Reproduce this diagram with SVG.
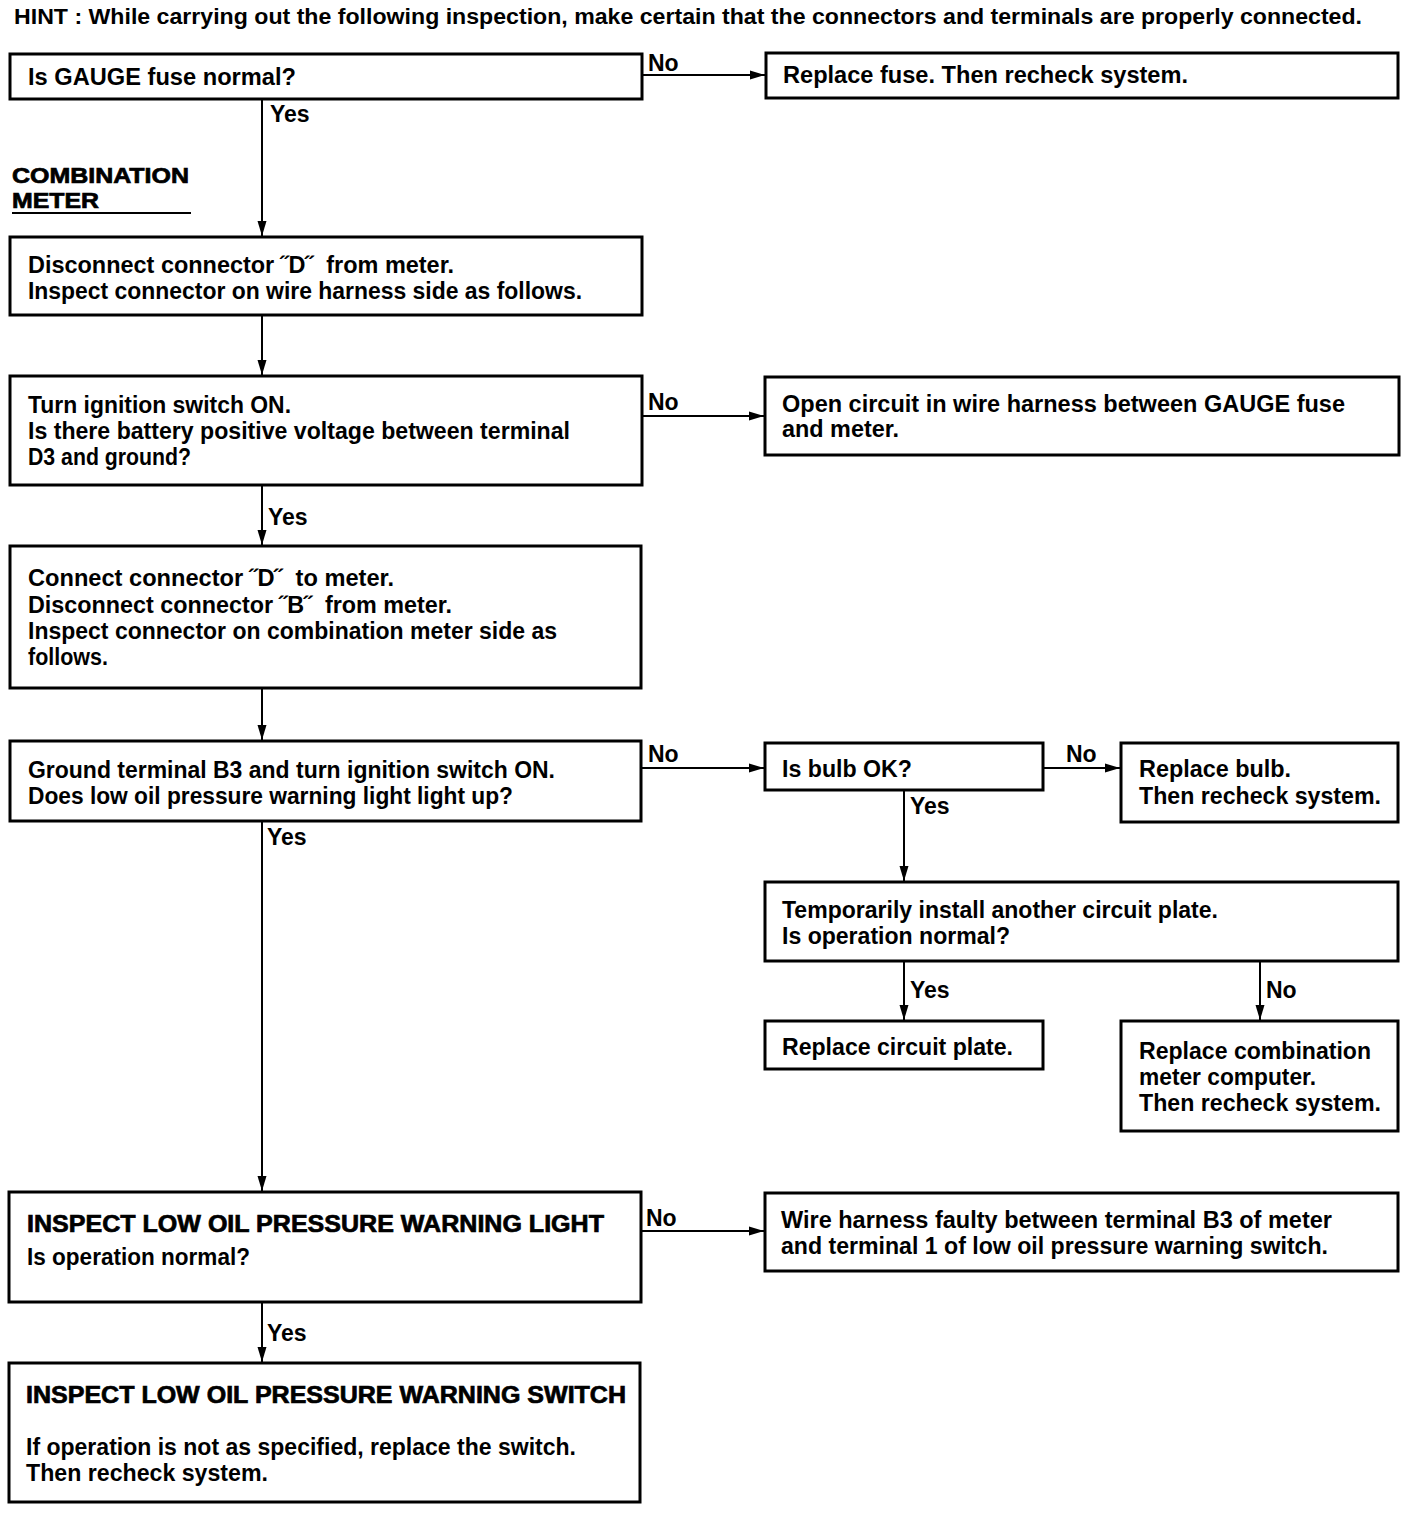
<svg xmlns="http://www.w3.org/2000/svg" width="1408" height="1516" viewBox="0 0 1408 1516">
<style>
text{font-family:"Liberation Sans",Arial,sans-serif;font-weight:bold;font-size:23.5px;fill:#000}
.t{font-size:22px}
.l{font-size:23px}
.h{stroke:#000;stroke-width:0.7}
.box{fill:#fff;stroke:#000;stroke-width:3}
.ln{stroke:#000;stroke-width:2;fill:none}
</style>
<defs>
<marker id="ar" markerUnits="userSpaceOnUse" markerWidth="16" markerHeight="12" refX="15" refY="6" orient="auto">
<path d="M0,1.5 L15,6 L0,10.5 Z" fill="#000"/>
</marker>
</defs>
<rect width="1408" height="1516" fill="#fff"/>
<text x="14" y="24" class="t" textLength="1348" lengthAdjust="spacingAndGlyphs">HINT : While carrying out the following inspection, make certain that the connectors and terminals are properly connected.</text>

<g id="connectors">
<line class="ln" x1="642" y1="75" x2="765" y2="75" marker-end="url(#ar)"/>
<line class="ln" x1="262" y1="99" x2="262" y2="236" marker-end="url(#ar)"/>
<line class="ln" x1="262" y1="315" x2="262" y2="375" marker-end="url(#ar)"/>
<line class="ln" x1="642" y1="416" x2="764" y2="416" marker-end="url(#ar)"/>
<line class="ln" x1="262" y1="485" x2="262" y2="545" marker-end="url(#ar)"/>
<line class="ln" x1="262" y1="688" x2="262" y2="740" marker-end="url(#ar)"/>
<line class="ln" x1="641" y1="768" x2="764" y2="768" marker-end="url(#ar)"/>
<line class="ln" x1="1043" y1="768" x2="1120" y2="768" marker-end="url(#ar)"/>
<line class="ln" x1="904" y1="790" x2="904" y2="881" marker-end="url(#ar)"/>
<line class="ln" x1="904" y1="961" x2="904" y2="1020" marker-end="url(#ar)"/>
<line class="ln" x1="1260" y1="961" x2="1260" y2="1020" marker-end="url(#ar)"/>
<line class="ln" x1="262" y1="821" x2="262" y2="1191" marker-end="url(#ar)"/>
<line class="ln" x1="641" y1="1231" x2="764" y2="1231" marker-end="url(#ar)"/>
<line class="ln" x1="262" y1="1302" x2="262" y2="1362" marker-end="url(#ar)"/>
<text x="648" y="71" class="l">No</text>
<text x="270" y="122" class="l">Yes</text>
<text x="648" y="410" class="l">No</text>
<text x="268" y="525" class="l">Yes</text>
<text x="648" y="762" class="l">No</text>
<text x="1066" y="762" class="l">No</text>
<text x="910" y="814" class="l">Yes</text>
<text x="910" y="998" class="l">Yes</text>
<text x="1266" y="998" class="l">No</text>
<text x="267" y="845" class="l">Yes</text>
<text x="646" y="1226" class="l">No</text>
<text x="267" y="1341" class="l">Yes</text>
</g>

<g id="label-combination-meter">
<text x="12" y="183" class="t h" textLength="177" lengthAdjust="spacingAndGlyphs">COMBINATION</text>
<text x="12" y="208" class="t h" textLength="87" lengthAdjust="spacingAndGlyphs">METER</text>
<line x1="12" y1="213" x2="191" y2="213" stroke="#000" stroke-width="2"/>
</g>

<g id="n1">
<rect class="box" x="10" y="54" width="632" height="45"/>
<text x="28" y="85" textLength="268" lengthAdjust="spacingAndGlyphs">Is GAUGE fuse normal?</text>
</g>
<g id="n2">
<rect class="box" x="766" y="53" width="632" height="45"/>
<text x="783" y="83" textLength="405" lengthAdjust="spacingAndGlyphs">Replace fuse. Then recheck system.</text>
</g>
<g id="n3">
<rect class="box" x="10" y="237" width="632" height="78"/>
<text x="28" y="273" textLength="426" lengthAdjust="spacingAndGlyphs" xml:space="preserve">Disconnect connector ˝D˝  from meter.</text>
<text x="28" y="299" textLength="554" lengthAdjust="spacingAndGlyphs">Inspect connector on wire harness side as follows.</text>
</g>
<g id="n4">
<rect class="box" x="10" y="376" width="632" height="109"/>
<text x="28" y="413" textLength="263" lengthAdjust="spacingAndGlyphs">Turn ignition switch ON.</text>
<text x="28" y="439" textLength="542" lengthAdjust="spacingAndGlyphs">Is there battery positive voltage between terminal</text>
<text x="28" y="465" textLength="163" lengthAdjust="spacingAndGlyphs">D3 and ground?</text>
</g>
<g id="n5">
<rect class="box" x="765" y="377" width="634" height="78"/>
<text x="782" y="412" textLength="563" lengthAdjust="spacingAndGlyphs">Open circuit in wire harness between GAUGE fuse</text>
<text x="782" y="437" textLength="117" lengthAdjust="spacingAndGlyphs">and meter.</text>
</g>
<g id="n6">
<rect class="box" x="10" y="546" width="631" height="142"/>
<text x="28" y="586" textLength="366" lengthAdjust="spacingAndGlyphs" xml:space="preserve">Connect connector ˝D˝  to meter.</text>
<text x="28" y="613" textLength="424" lengthAdjust="spacingAndGlyphs" xml:space="preserve">Disconnect connector ˝B˝  from meter.</text>
<text x="28" y="639" textLength="529" lengthAdjust="spacingAndGlyphs">Inspect connector on combination meter side as</text>
<text x="28" y="665" textLength="80" lengthAdjust="spacingAndGlyphs">follows.</text>
</g>
<g id="n7">
<rect class="box" x="10" y="741" width="631" height="80"/>
<text x="28" y="778" textLength="527" lengthAdjust="spacingAndGlyphs">Ground terminal B3 and turn ignition switch ON.</text>
<text x="28" y="804" textLength="485" lengthAdjust="spacingAndGlyphs">Does low oil pressure warning light light up?</text>
</g>
<g id="n8">
<rect class="box" x="765" y="743" width="278" height="47"/>
<text x="782" y="777" textLength="130" lengthAdjust="spacingAndGlyphs">Is bulb OK?</text>
</g>
<g id="n9">
<rect class="box" x="1121" y="743" width="277" height="79"/>
<text x="1139" y="777" textLength="152" lengthAdjust="spacingAndGlyphs">Replace bulb.</text>
<text x="1139" y="804" textLength="242" lengthAdjust="spacingAndGlyphs">Then recheck system.</text>
</g>
<g id="n10">
<rect class="box" x="765" y="882" width="633" height="79"/>
<text x="782" y="918" textLength="436" lengthAdjust="spacingAndGlyphs">Temporarily install another circuit plate.</text>
<text x="782" y="944" textLength="228" lengthAdjust="spacingAndGlyphs">Is operation normal?</text>
</g>
<g id="n11">
<rect class="box" x="765" y="1021" width="278" height="48"/>
<text x="782" y="1055" textLength="231" lengthAdjust="spacingAndGlyphs">Replace circuit plate.</text>
</g>
<g id="n12">
<rect class="box" x="1121" y="1021" width="277" height="110"/>
<text x="1139" y="1059" textLength="232" lengthAdjust="spacingAndGlyphs">Replace combination</text>
<text x="1139" y="1085" textLength="177" lengthAdjust="spacingAndGlyphs">meter computer.</text>
<text x="1139" y="1111" textLength="242" lengthAdjust="spacingAndGlyphs">Then recheck system.</text>
</g>
<g id="n13">
<rect class="box" x="9" y="1192" width="632" height="110"/>
<text x="27" y="1232" class="h" textLength="577" lengthAdjust="spacingAndGlyphs">INSPECT LOW OIL PRESSURE WARNING LIGHT</text>
<text x="27" y="1265" textLength="223" lengthAdjust="spacingAndGlyphs">Is operation normal?</text>
</g>
<g id="n14">
<rect class="box" x="765" y="1193" width="633" height="78"/>
<text x="781" y="1228" textLength="551" lengthAdjust="spacingAndGlyphs">Wire harness faulty between terminal B3 of meter</text>
<text x="781" y="1254" textLength="547" lengthAdjust="spacingAndGlyphs">and terminal 1 of low oil pressure warning switch.</text>
</g>
<g id="n15">
<rect class="box" x="9" y="1363" width="631" height="139"/>
<text x="26" y="1403" class="h" textLength="600" lengthAdjust="spacingAndGlyphs">INSPECT LOW OIL PRESSURE WARNING SWITCH</text>
<text x="26" y="1455" textLength="550" lengthAdjust="spacingAndGlyphs">If operation is not as specified, replace the switch.</text>
<text x="26" y="1481" textLength="242" lengthAdjust="spacingAndGlyphs">Then recheck system.</text>
</g>
</svg>
